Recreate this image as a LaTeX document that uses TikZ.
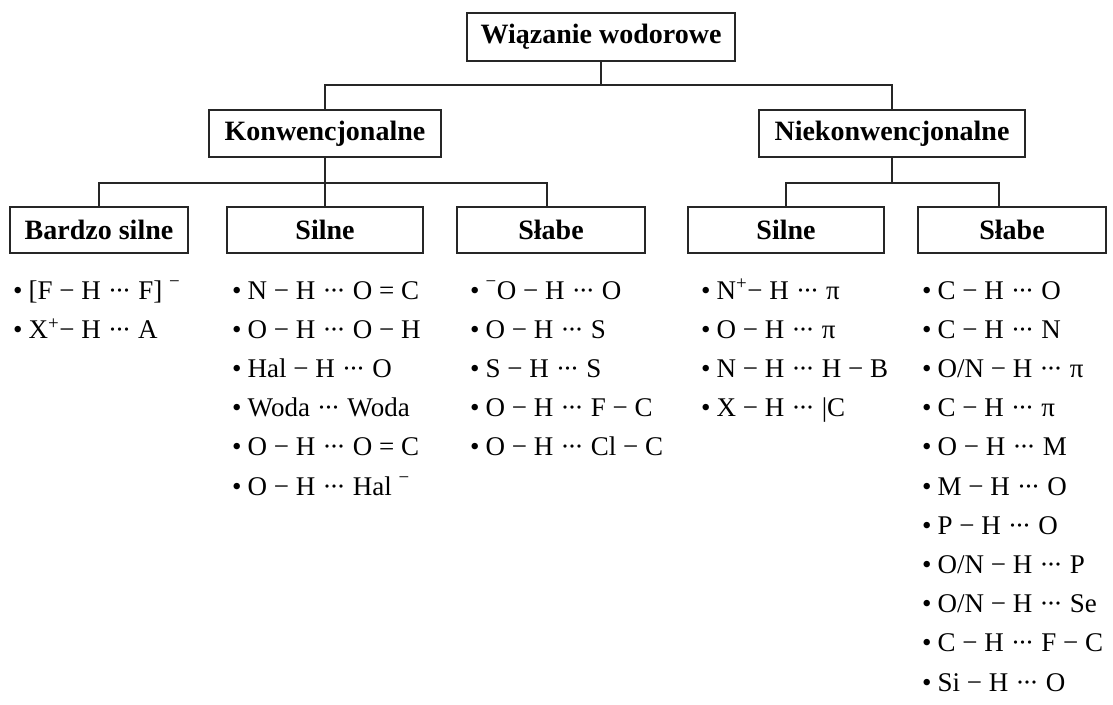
\documentclass[tikz,border=0pt]{standalone}
\usepackage{fontspec}
\setmainfont{Liberation Serif}
\newcommand\hdots{\kern0.5pt·\kern-2pt·\kern-2pt·\kern0.5pt}
\newcommand\sm{\textsuperscript{\raisebox{2pt}{−}}}
\begin{document}
\begin{tikzpicture}[x=1pt,y=-1pt,
  box/.style={draw=black!85,line width=1.5pt,inner sep=0pt,
    font=\fontsize{28}{32}\selectfont\bfseries},
  conn/.style={draw=black!85,line width=1.5pt},
  item/.style={anchor=base west,inner sep=0pt,font=\fontsize{27}{30}\selectfont}]
\useasboundingbox[fill=white] (0,0) rectangle (1113,704);
% boxes
\node[box,minimum width=268pt,minimum height=48pt] (top) at (601,37) {Wiązanie wodorowe};
\node[box,minimum width=232pt,minimum height=47pt] (konw) at (325,133.5) {Konwencjonalne};
\node[box,minimum width=266pt,minimum height=47pt] (niek) at (892,133.5) {Niekonwencjonalne};
\node[box,minimum width=178pt,minimum height=46pt] (bs) at (99,230) {Bardzo silne};
\node[box,minimum width=196pt,minimum height=46pt] (ks) at (325,230) {Silne};
\node[box,minimum width=188pt,minimum height=46pt] (kw) at (551,230) {Słabe};
\node[box,minimum width=196pt,minimum height=46pt] (ns) at (786,230) {Silne};
\node[box,minimum width=188pt,minimum height=46pt] (nw) at (1012,230) {Słabe};
% connectors
\draw[conn] (top.south) -- ++(0,23) -| (konw.north);
\draw[conn] (top.south) -- ++(0,23) -| (niek.north);
\draw[conn] (konw.south) -- ++(0,25) -| (bs.north);
\draw[conn] (konw.south) -- (ks.north);
\draw[conn] (konw.south) -- ++(0,25) -| ([xshift=-4pt]kw.north);
\draw[conn] (niek.south) -- ++(0,25) -| (ns.north);
\draw[conn] (niek.south) -- ++(0,25) -| ([xshift=-13pt]nw.north);
% lists
\def\bl{•\kern6pt}
\newcommand\itm[4]{\node[item] (#1) at (#2,{299+#3*39.2}) {\bl #4};}
\itm{a1}{13}{0}{[F − H \hdots{} F] \sm}
\itm{a2}{13}{1}{X\textsuperscript{+}− H \hdots{} A}
\itm{b1}{232}{0}{N − H \hdots{} O = C}
\itm{b2}{232}{1}{O − H \hdots{} O − H}
\itm{b3}{232}{2}{Hal − H \hdots{} O}
\itm{b4}{232}{3}{Woda \hdots{} Woda}
\itm{b5}{232}{4}{O − H \hdots{} O = C}
\itm{b6}{232}{5}{O − H \hdots{} Hal \sm}
\itm{c1}{470}{0}{\sm O − H \hdots{} O}
\itm{c2}{470}{1}{O − H \hdots{} S}
\itm{c3}{470}{2}{S − H \hdots{} S}
\itm{c4}{470}{3}{O − H \hdots{} F − C}
\itm{c5}{470}{4}{O − H \hdots{} Cl − C}
\itm{d1}{701}{0}{N\textsuperscript{+}− H \hdots{} π}
\itm{d2}{701}{1}{O − H \hdots{} π}
\itm{d3}{701}{2}{N − H \hdots{} H − B}
\itm{d4}{701}{3}{X − H \hdots{} |C}
\itm{e1}{922}{0}{C − H \hdots{} O}
\itm{e2}{922}{1}{C − H \hdots{} N}
\itm{e3}{922}{2}{O/N − H \hdots{} π}
\itm{e4}{922}{3}{C − H \hdots{} π}
\itm{e5}{922}{4}{O − H \hdots{} M}
\itm{e6}{922}{5}{M − H \hdots{} O}
\itm{e7}{922}{6}{P − H \hdots{} O}
\itm{e8}{922}{7}{O/N − H \hdots{} P}
\itm{e9}{922}{8}{O/N − H \hdots{} Se}
\itm{e10}{922}{9}{C − H \hdots{} F − C}
\itm{e11}{922}{10}{Si − H \hdots{} O}
\end{tikzpicture}
\end{document}
